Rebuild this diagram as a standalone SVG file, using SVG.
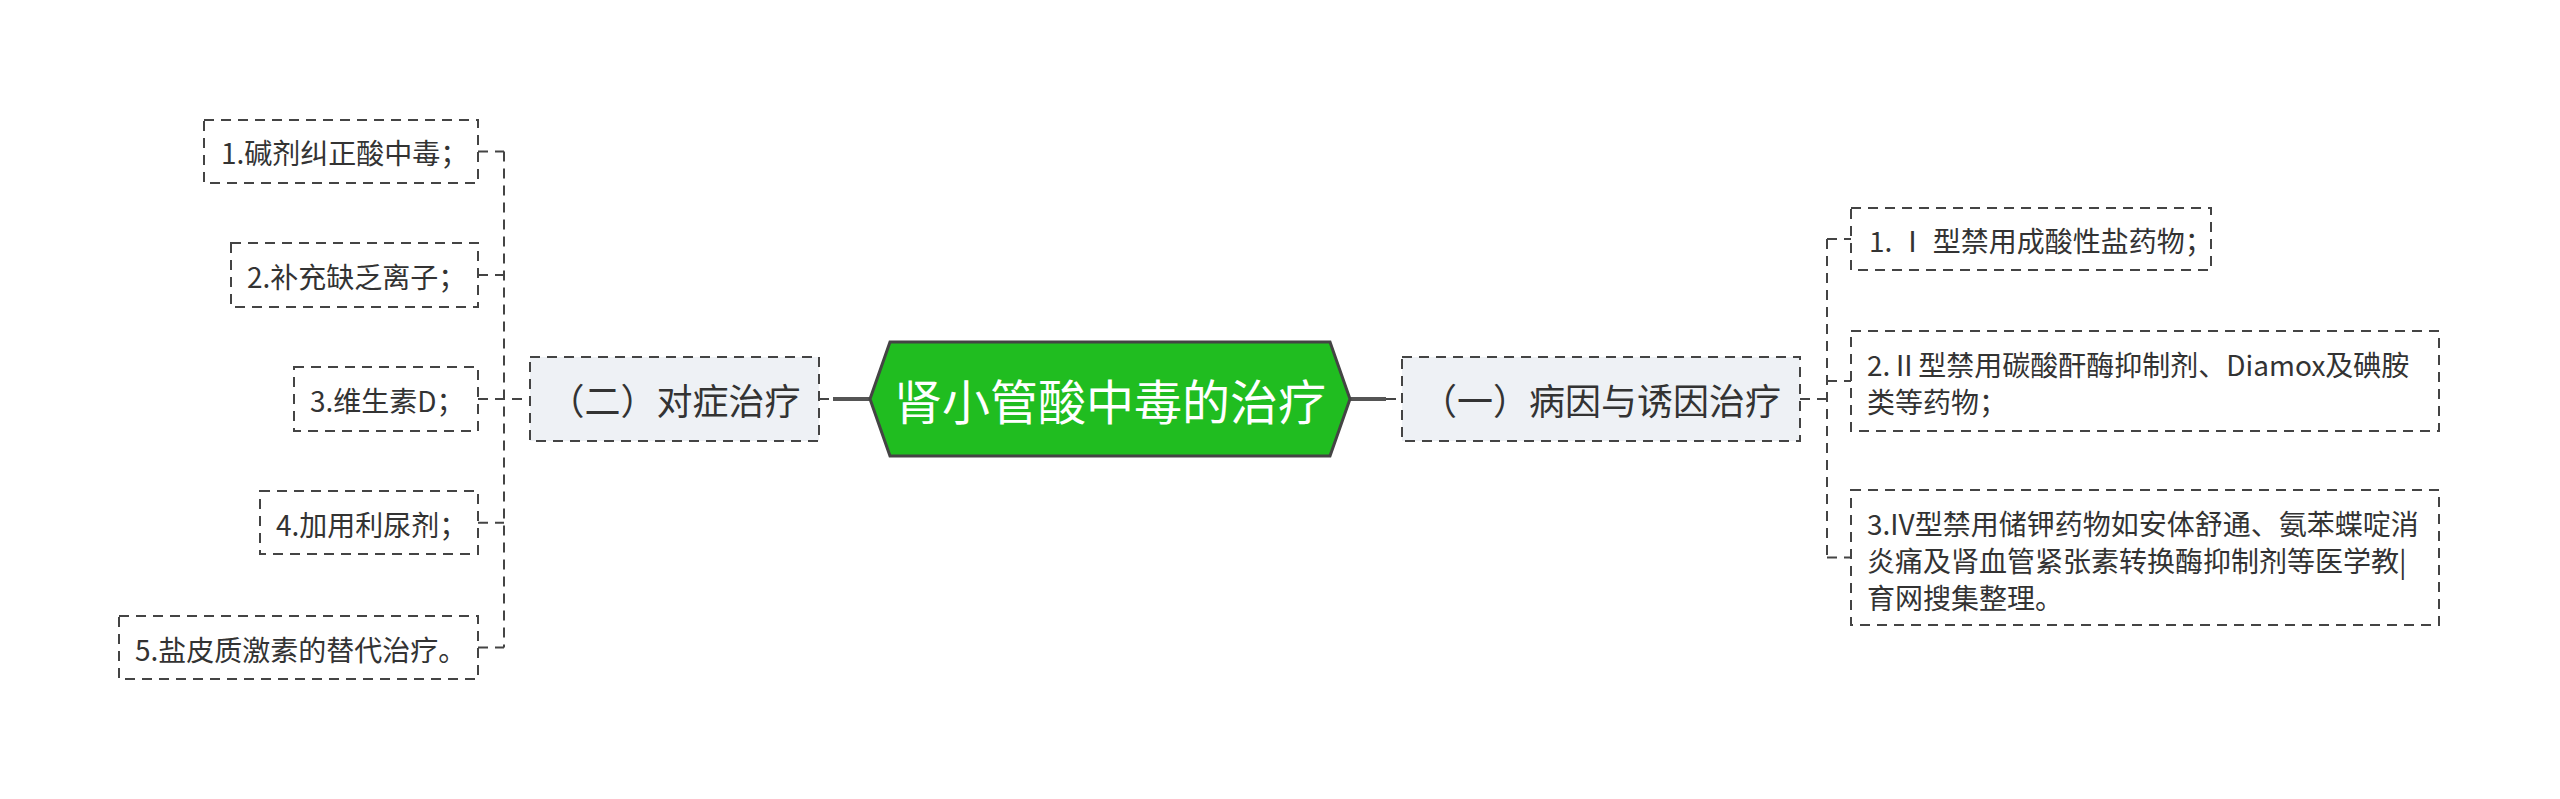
<svg xmlns="http://www.w3.org/2000/svg" width="2560" height="799" viewBox="0 0 2560 799">
<style>
text{font-family:"Noto Sans CJK SC","Noto Sans",sans-serif;fill:#333;dominant-baseline:central}
.child rect{fill:#fff;stroke:#444;stroke-width:2;stroke-dasharray:10 7}
.child text{font-size:28px}
.l1 rect{fill:#eef1f5;stroke:#444;stroke-width:2;stroke-dasharray:10 7}
.l1 text{font-size:36px;text-anchor:middle}
.thin{fill:none;stroke:#444;stroke-width:2;stroke-dasharray:10 7}
.thick{fill:none;stroke:#555;stroke-width:4}
</style>
<rect width="2560" height="799" fill="#fff"/>
<g id="connectors">
<path class="thin" d="M504 151.5V647.5"/>
<path class="thin" d="M478 151.5H504M478 275H504M478 399H530M478 522.7H504M478 647.5H504"/>
<path class="thin" d="M1827 239V557.5"/>
<path class="thin" d="M1800 399H1827M1827 239H1851M1827 381H1851M1827 557.5H1851"/>
<path class="thin" d="M819 399H833M1386 399H1402"/>
<path class="thick" d="M833 399H870M1350 399H1386"/>
</g>
<g id="root">
<polygon points="870,399 890,342 1330,342 1350,399 1330,456 890,456" fill="#20bd20" stroke="#444" stroke-width="3"/>
<text x="1110" y="399" font-size="48" text-anchor="middle" style="fill:#fff">肾小管酸中毒的治疗</text>
</g>
<g id="n-left" class="l1">
<rect x="530" y="357" width="289" height="84"/>
<text x="674.5" y="399">（二）对症治疗</text>
</g>
<g id="n-right" class="l1">
<rect x="1402" y="357" width="398" height="84"/>
<text x="1601" y="399">（一）病因与诱因治疗</text>
</g>
<g id="l-1" class="child">
<rect x="204" y="120" width="274" height="63"/>
<text x="221" y="152">1.碱剂纠正酸中毒；</text>
</g>
<g id="l-2" class="child">
<rect x="231" y="243" width="247" height="64"/>
<text x="247" y="276">2.补充缺乏离子；</text>
</g>
<g id="l-3" class="child">
<rect x="294" y="367" width="184" height="64"/>
<text x="310" y="400">3.维生素D；</text>
</g>
<g id="l-4" class="child">
<rect x="260" y="491" width="218" height="63"/>
<text x="276" y="523.5">4.加用利尿剂；</text>
</g>
<g id="l-5" class="child">
<rect x="119" y="616" width="359" height="63"/>
<text x="135" y="648.5">5.盐皮质激素的替代治疗。</text>
</g>
<g id="r-1" class="child">
<rect x="1851" y="208" width="360" height="62"/>
<text x="1869" y="240">1. Ⅰ 型禁用成酸性盐药物；</text>
</g>
<g id="r-2" class="child">
<rect x="1851" y="331" width="588" height="100"/>
<text x="1867" y="364">2.Ⅱ型禁用碳酸酐酶抑制剂、Diamox及碘胺</text>
<text x="1867" y="401">类等药物；</text>
</g>
<g id="r-3" class="child">
<rect x="1851" y="490" width="588" height="135"/>
<text x="1867" y="523">3.IV型禁用储钾药物如安体舒通、氨苯蝶啶消</text>
<text x="1867" y="560">炎痛及肾血管紧张素转换酶抑制剂等医学教|</text>
<text x="1867" y="597">育网搜集整理。</text>
</g>
</svg>
